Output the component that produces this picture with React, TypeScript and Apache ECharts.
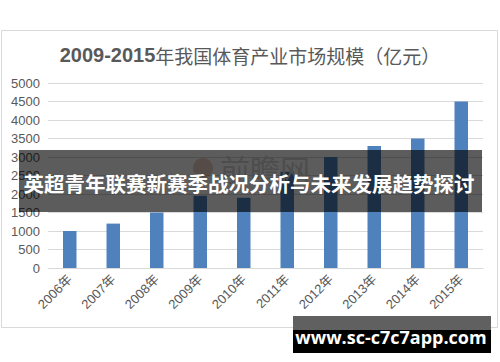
import React, { useEffect, useRef } from "react";
import * as echarts from "echarts";

const categories = ["2006年", "2007年", "2008年", "2009年", "2010年", "2011年", "2012年", "2013年", "2014年", "2015年"];
const values = [1000, 1200, 1500, 1950, 1900, 2600, 3000, 3300, 3500, 4500];
const yTicks = { min: 0, max: 5000, interval: 500 };
const titleBold = "2009-2015";
const titleRest = "年我国体育产业市场规模（亿元）";
const bannerText = "英超青年联赛新赛季战况分析与未来发展趋势探讨";
const urlText = "www.sc-c7c7app.com";
const watermarkText = "前瞻网";

export default function App() {
  const ref = useRef<HTMLDivElement>(null);
  useEffect(() => {
    document.body.style.margin = "0";
    const chart = echarts.init(ref.current!, null, { renderer: "svg" });
    const font = "'Liberation Sans', Arial, 'Noto Sans CJK SC', sans-serif";
    chart.setOption({
      animation: false,
      backgroundColor: "#ffffff",
      title: {
        text: `{b|${titleBold}}{n|${titleRest}}`,
        left: "center",
        top: 40,
        textStyle: {
          fontWeight: "normal",
          rich: {
            b: { fontSize: 20, fontWeight: "bold", color: "#595959", fontFamily: font },
            n: { fontSize: 19, fontWeight: "normal", color: "#595959", fontFamily: "'Noto Sans CJK SC', sans-serif" },
          },
        },
      },
      grid: { left: 48, right: 17, top: 83, bottom: 94 },
      xAxis: {
        type: "category",
        data: categories,
        axisTick: { show: false },
        axisLine: { lineStyle: { color: "#d9d9d9" } },
        axisLabel: { rotate: 45, color: "#595959", fontSize: 13, margin: 9, fontFamily: font },
      },
      yAxis: {
        type: "value",
        min: yTicks.min,
        max: yTicks.max,
        interval: yTicks.interval,
        axisLine: { show: false },
        axisTick: { show: false },
        axisLabel: {
          color: "#595959",
          fontSize: 13,
          margin: 8,
          fontFamily: font,
          formatter: (v: number) => String(v),
        },
        splitLine: { lineStyle: { color: "#d9d9d9" } },
      },
      series: [
        {
          type: "bar",
          data: values,
          barWidth: "31%",
          itemStyle: { color: "#4f81bd" },
        },
      ],
      graphic: [
        {
          type: "rect",
          shape: { x: 1.5, y: 30.5, width: 496, height: 297 },
          style: { fill: "none", stroke: "#d9d9d9", lineWidth: 1 },
          silent: true,
          z: 1,
        },
        {
          type: "circle",
          shape: { cx: 203, cy: 168, r: 10 },
          style: { fill: "rgba(190,110,70,0.3)" },
          z: 50,
        },
        {
          type: "text",
          x: 265,
          y: 168,
          style: {
            text: watermarkText,
            fill: "#d6d6d6",
            font: "30px 'Noto Sans CJK SC', sans-serif",
            align: "center",
            verticalAlign: "middle",
          },
          z: 50,
        },
        {
          type: "rect",
          shape: { x: 19, y: 150, width: 463, height: 62 },
          style: { fill: "rgba(0,0,0,0.64)" },
          z: 100,
        },
        {
          type: "text",
          x: 249,
          y: 183,
          style: {
            text: bannerText,
            fill: "#ffffff",
            font: "bold 20.5px 'Noto Sans CJK SC', sans-serif",
            align: "center",
            verticalAlign: "middle",
          },
          z: 101,
        },
        {
          type: "rect",
          shape: { x: 293, y: 316, width: 198, height: 14 },
          style: { fill: "#606060" },
          z: 100,
        },
        {
          type: "rect",
          shape: { x: 293, y: 330, width: 198, height: 23 },
          style: { fill: "#000000" },
          z: 100,
        },
        {
          type: "text",
          x: 391,
          y: 337,
          style: {
            text: urlText,
            fill: "#ffffff",
            font: "bold 18px 'Open Sans', sans-serif",
            align: "center",
            verticalAlign: "middle",
          },
          z: 101,
        },
      ],
    });
    return () => chart.dispose();
  }, []);
  return <div ref={ref} style={{ width: 500, height: 362 }} />;
}
